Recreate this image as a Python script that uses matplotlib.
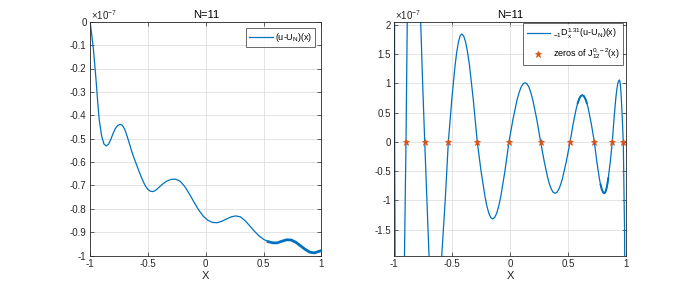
import numpy as np
import matplotlib
matplotlib.use("Agg")
import matplotlib.pyplot as plt
from matplotlib.ticker import FixedLocator, FixedFormatter

plt.rcParams['font.family'] = ['Liberation Sans', 'DejaVu Sans']
plt.rcParams['mathtext.default'] = 'regular'
plt.rcParams['mathtext.fontset'] = 'custom'
plt.rcParams['mathtext.rm'] = 'Liberation Sans'
plt.rcParams['mathtext.it'] = 'Liberation Sans'

# ---------------- data (values in units of 1e-7) ----------------
err_x = [-1.00, -0.99, -0.98, -0.97, -0.96, -0.95, -0.94, -0.93, -0.92, -0.90,
         -0.88, -0.86, -0.84, -0.82, -0.80, -0.78, -0.76, -0.74, -0.72, -0.70,
         -0.68, -0.66, -0.64, -0.62, -0.60, -0.58, -0.56, -0.54, -0.52, -0.50,
         -0.48, -0.46, -0.44, -0.42, -0.38, -0.34, -0.30, -0.26, -0.22, -0.18,
         -0.14, -0.10, -0.06, -0.02, 0.02, 0.06, 0.10, 0.14, 0.18, 0.22,
         0.26, 0.30, 0.34, 0.38, 0.42, 0.46, 0.50, 0.54, 0.58, 0.62,
         0.66, 0.70, 0.74, 0.78, 0.82, 0.86, 0.90, 0.94, 0.97, 1.00]
err_v = [0.000, -0.035, -0.078, -0.120, -0.178, -0.235, -0.300, -0.365, -0.420, -0.487,
         -0.522, -0.531, -0.524, -0.503, -0.477, -0.456, -0.443, -0.439, -0.443, -0.460,
         -0.488, -0.520, -0.553, -0.582, -0.608, -0.635, -0.660, -0.683, -0.703, -0.716,
         -0.724, -0.726, -0.723, -0.715, -0.697, -0.682, -0.674, -0.673, -0.682, -0.705,
         -0.737, -0.772, -0.805, -0.832, -0.849, -0.858, -0.859, -0.853, -0.843, -0.834,
         -0.830, -0.834, -0.850, -0.872, -0.895, -0.915, -0.930, -0.940, -0.945, -0.945,
         -0.938, -0.932, -0.933, -0.943, -0.958, -0.973, -0.985, -0.988, -0.983, -0.978]

der_x = [-1.000, -0.997, -0.993, -0.985, -0.970, -0.950, -0.930, -0.912, -0.899, -0.888,
         -0.875, -0.860, -0.840, -0.820, -0.800, -0.785, -0.772, -0.755, -0.737, -0.718,
         -0.700, -0.680, -0.660, -0.640, -0.620, -0.600, -0.590, -0.560, -0.533,
         -0.504, -0.475, -0.4605, -0.446, -0.4315, -0.417,
         -0.4003, -0.3835, -0.3668, -0.350, -0.3165, -0.283,
         -0.2498, -0.2165, -0.1999, -0.1833, -0.1666, -0.150,
         -0.1324, -0.1148, -0.0971, -0.0795, -0.0443, -0.009,
         0.0258, 0.0605, 0.0779, 0.0953, 0.1126, 0.130,
         0.1469, 0.1638, 0.1806, 0.1975, 0.2313, 0.265,
         0.296, 0.327, 0.3425, 0.358, 0.3735, 0.389,
         0.4053, 0.4215, 0.4378, 0.454, 0.4865, 0.519,
         0.5455, 0.572, 0.5853, 0.5985, 0.6118, 0.625,
         0.638, 0.651, 0.664, 0.677, 0.703, 0.729,
         0.7505, 0.772, 0.7828, 0.7935, 0.8043, 0.815,
         0.8236, 0.8323, 0.8409, 0.8495, 0.8668, 0.884,
         0.8993, 0.9145, 0.9221, 0.9298, 0.9374, 0.945,
         0.9493, 0.9535, 0.9578, 0.962, 0.9705, 0.979,
         0.990, 1.000]
der_v = [8.0, 0.0, -2.0, -5.0, -7.0, -6.5, -4.5, -1.94, 0.0, 2.06,
         3.8, 4.8, 5.1, 4.6, 3.6, 2.8, 2.06, 1.0, 0.0, -1.0,
         -1.94, -2.7, -3.1, -3.2, -3.0, -2.4, -1.94, -1.0, 0.0,
         0.707, 1.305, 1.534, 1.706, 1.811, 1.846,
         1.811, 1.706, 1.534, 1.305, 0.707, 0.0,
         -0.504, -0.930, -1.094, -1.216, -1.291, -1.316,
         -1.291, -1.216, -1.094, -0.930, -0.504, 0.0,
         0.388, 0.716, 0.842, 0.936, 0.994, 1.013,
         0.994, 0.936, 0.842, 0.716, 0.388, 0.0,
         -0.336, -0.620, -0.729, -0.810, -0.860, -0.877,
         -0.860, -0.810, -0.729, -0.620, -0.336, 0.0,
         0.306, 0.566, 0.665, 0.739, 0.785, 0.800,
         0.785, 0.739, 0.665, 0.566, 0.306, 0.0,
         -0.336, -0.620, -0.729, -0.810, -0.860, -0.877,
         -0.860, -0.810, -0.729, -0.620, -0.336, 0.0,
         0.406, 0.749, 0.881, 0.979, 1.040, 1.060,
         1.040, 0.979, 0.881, 0.749, 0.406, 0.0,
         -1.5, -5.0]

zeros_x = [-0.899, -0.737, -0.533, -0.283, -0.009, 0.265, 0.519, 0.729, 0.884, 0.979]
zeros_v = [0, 0, 0, 0, 0, 0, 0, 0, 0, 0]

left_yticks = [-1, -0.9, -0.8, -0.7, -0.6, -0.5, -0.4, -0.3, -0.2, -0.1, 0]
left_ylabels = ['-1', '-0.9', '-0.8', '-0.7', '-0.6', '-0.5', '-0.4', '-0.3', '-0.2', '-0.1', '0']
right_yticks = [-1.5, -1, -0.5, 0, 0.5, 1, 1.5, 2]
right_ylabels = ['-1.5', '-1', '-0.5', '0', '0.5', '1', '1.5', '2']
xticks = [-1, -0.5, 0, 0.5, 1]
xlabels = ['-1', '-0.5', '0', '0.5', '1']

BLUE = '#0072BD'
ORANGE = '#D95319'
EDGE = '#262626'
GRID = '#DFDFDF'

fig = plt.figure(figsize=(6.92, 2.88), dpi=100)
axL = fig.add_axes([90/692, 32.3/288, 231.4/692, 234/288])
axR = fig.add_axes([394.3/692, 32.3/288, 231.4/692, 234/288])

def style(ax, yt, yl, ylim):
    ax.set_xlim(-1, 1)
    ax.set_ylim(*ylim)
    ax.xaxis.set_major_locator(FixedLocator(xticks))
    ax.xaxis.set_major_formatter(FixedFormatter(xlabels))
    ax.yaxis.set_major_locator(FixedLocator(yt))
    ax.yaxis.set_major_formatter(FixedFormatter(yl))
    ax.grid(True, color=GRID, lw=0.6)
    ax.set_axisbelow(True)
    ax.tick_params(direction='in', length=3, width=0.5, colors=EDGE,
                   labelsize=7, top=True, right=True, pad=2.5)
    for s in ax.spines.values():
        s.set_color(EDGE)
        s.set_linewidth(0.6)
    ax.set_title('N=11', fontsize=8, color='black', pad=3)
    ax.set_xlabel('X', fontsize=8, color=EDGE, labelpad=1)
    ax.text(0.005, 1.0, r'$\times10^{-7}$', transform=ax.transAxes, fontsize=7,
            color=EDGE, ha='left', va='bottom')

style(axL, left_yticks, left_ylabels, (-1, 0))
style(axR, right_yticks, right_ylabels, (-1.944, 2.056))

ex = np.array(err_x); ev = np.array(err_v)
axL.plot(ex, ev, color=BLUE, lw=0.9, label='(u-U$_N$)(x)')
m = ex >= 0.52
axL.plot(ex[m], ev[m], color=BLUE, lw=2.0)
axL.legend(loc='upper right', bbox_to_anchor=(1 - 6/231.4, 1 - 6.6/234), fontsize=6.5,
           frameon=True, fancybox=False, edgecolor=EDGE, borderpad=0.3,
           handlelength=2.6, handletextpad=0.3, borderaxespad=0).get_frame().set_linewidth(0.6)

dx = np.array(der_x); dv = np.array(der_v)
axR.plot(dx, dv, color=BLUE, lw=0.9, label=r'${}_{-1}D_x^{1.31}$(u-U$_N$)(x)')
m2 = ((dx >= 0.58) & (dx <= 0.67)) | ((dx >= 0.78) & (dx <= 0.85))
for lo, hi in [(0.58, 0.67), (0.78, 0.85)]:
    mm = (dx >= lo) & (dx <= hi)
    axR.plot(dx[mm], dv[mm], color=BLUE, lw=1.4)
axR.plot(zeros_x, zeros_v, ls='none', marker='*', ms=5, color=ORANGE,
         markeredgewidth=0.6, label=r'zeros of $J_{12}^{0,-2}$(x)')
leg = axR.legend(loc='upper right', bbox_to_anchor=(1 - 2.4/231.4, 1 - 1.6/234), fontsize=6.5,
                 frameon=True, fancybox=False, edgecolor=EDGE, borderpad=0.4,
                 handlelength=2.6, handletextpad=0.3, borderaxespad=0, labelspacing=0.6)
leg.get_frame().set_linewidth(0.6)

fig.savefig('out.png', dpi=100)
